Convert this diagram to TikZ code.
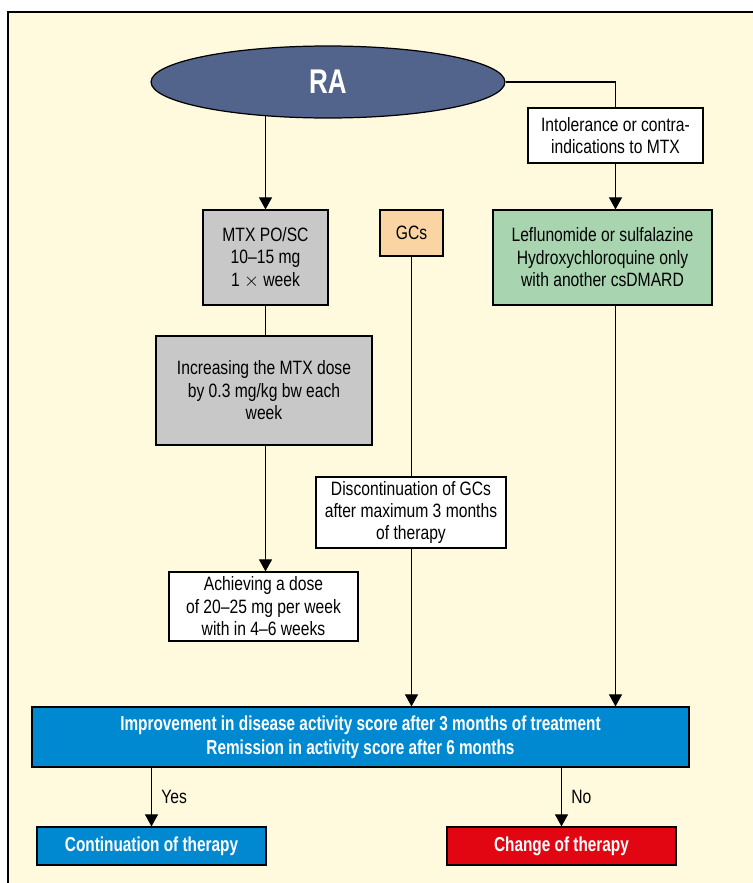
\documentclass[tikz,border=0pt]{standalone}
\usepackage{fontspec}
\setmainfont[FakeStretch=0.81]{Liberation Sans}
\newfontfamily\narrowbold[FakeStretch=0.76]{Liberation Sans}
\usetikzlibrary{shapes.geometric,arrows.meta}

\definecolor{cream}{RGB}{255,249,221}
\definecolor{raBlue}{RGB}{82,99,140}
\definecolor{boxGrey}{RGB}{200,200,200}
\definecolor{gcOrange}{RGB}{250,212,162}
\definecolor{leflGreen}{RGB}{168,213,176}
\definecolor{scoreBlue}{RGB}{0,137,208}
\definecolor{changeRed}{RGB}{226,6,19}

\begin{document}
\begin{tikzpicture}[x=0.02cm, y=-0.02cm,
    every node/.style={font=\fontsize{11}{12.8}\selectfont},
    box/.style={draw, line width=0.7pt, align=center, inner sep=0pt},
    boldbox/.style={box, text=white, font=\fontsize{11.5}{13.6}\selectfont\narrowbold\bfseries},
    arr/.style={-{Triangle[length=2.4mm, width=2.6mm]}, line width=0.6pt},
    link/.style={line width=0.6pt}]
    \useasboundingbox (0,0) rectangle (753,883);
    \clip (0,0) rectangle (753,883);
    \fill[white] (0,0) rectangle (753,883);
    \draw[fill=cream, line width=0.8pt] (8,12) rectangle (770,900);

    % top
    \node[ellipse, draw, line width=0.7pt, fill=raBlue, minimum width=7.08cm, minimum height=1.44cm, text=white, font=\fontsize{19.5}{22}\selectfont\narrowbold\bfseries] (ra) at (328,82) {RA};
    \node[box, fill=white, minimum width=3.5cm, minimum height=1.1cm] (intol) at (615.5,135.5) {Intolerance or contra-\\indications to MTX};

    % second row
    \node[box, fill=boxGrey, minimum width=2.5cm, minimum height=1.9cm] (mtx) at (265.5,257.5) {MTX PO/SC\\10--15 mg\\1 $\times$ week};
    \node[box, fill=gcOrange, minimum width=1.26cm, minimum height=0.92cm] (gcs) at (411.5,233) {GCs};
    \node[box, fill=leflGreen, minimum width=4.38cm, minimum height=1.9cm] (lefl) at (602.5,257.5) {Leflunomide or sulfalazine\\Hydroxychloroquine only\\with another csDMARD};

    % middle
    \node[box, fill=boxGrey, minimum width=4.32cm, minimum height=2.18cm] (incr) at (264,390.5) {Increasing the MTX dose\\by 0.3 mg/kg bw each\\week};
    \node[box, fill=white, minimum width=3.8cm, minimum height=1.42cm] (disc) at (411,512.5) {Discontinuation of GCs\\after maximum 3 months\\of therapy};
    \node[box, fill=white, minimum width=3.78cm, minimum height=1.38cm] (dose) at (263.5,606.5) {Achieving a dose\\of 20--25 mg per week\\with in 4--6 weeks};

    % bottom
    \node[boldbox, fill=scoreBlue, minimum width=13.14cm, minimum height=1.2cm] (score) at (360.5,737) {Improvement in disease activity score after 3 months of treatment\\Remission in activity score after 6 months};
    \node[boldbox, fill=scoreBlue, minimum width=4.58cm, minimum height=0.76cm] (cont) at (151.5,846) {Continuation of therapy};
    \node[boldbox, fill=changeRed, minimum width=4.58cm, minimum height=0.76cm] (change) at (561.5,846) {Change of therapy};

    % connectors
    \draw[arr] (ra.208 -| mtx.north) -- (mtx.north);
    \draw[link] (ra.east) -| (intol.north);
    \draw[arr] (intol.south) -- (intol.south |- lefl.north);
    \draw[link] (mtx.south) -- (incr.north -| mtx.south);
    \draw[arr] (incr.south -| mtx.south) -- (dose.north -| mtx.south);
    \draw[link] (gcs.south) -- (disc.north -| gcs.south);
    \draw[arr] (disc.south -| gcs.south) -- (score.north -| gcs.south);
    \draw[arr] (lefl.south -| intol.south) -- (score.north -| intol.south);
    \draw[arr] (score.south -| cont.north) -- node[right, xshift=2pt] (yes) {Yes} (cont.north);
    \draw[arr] (score.south -| change.north) -- node[right, xshift=2pt] (no) {No} (change.north);
\end{tikzpicture}
\end{document}
